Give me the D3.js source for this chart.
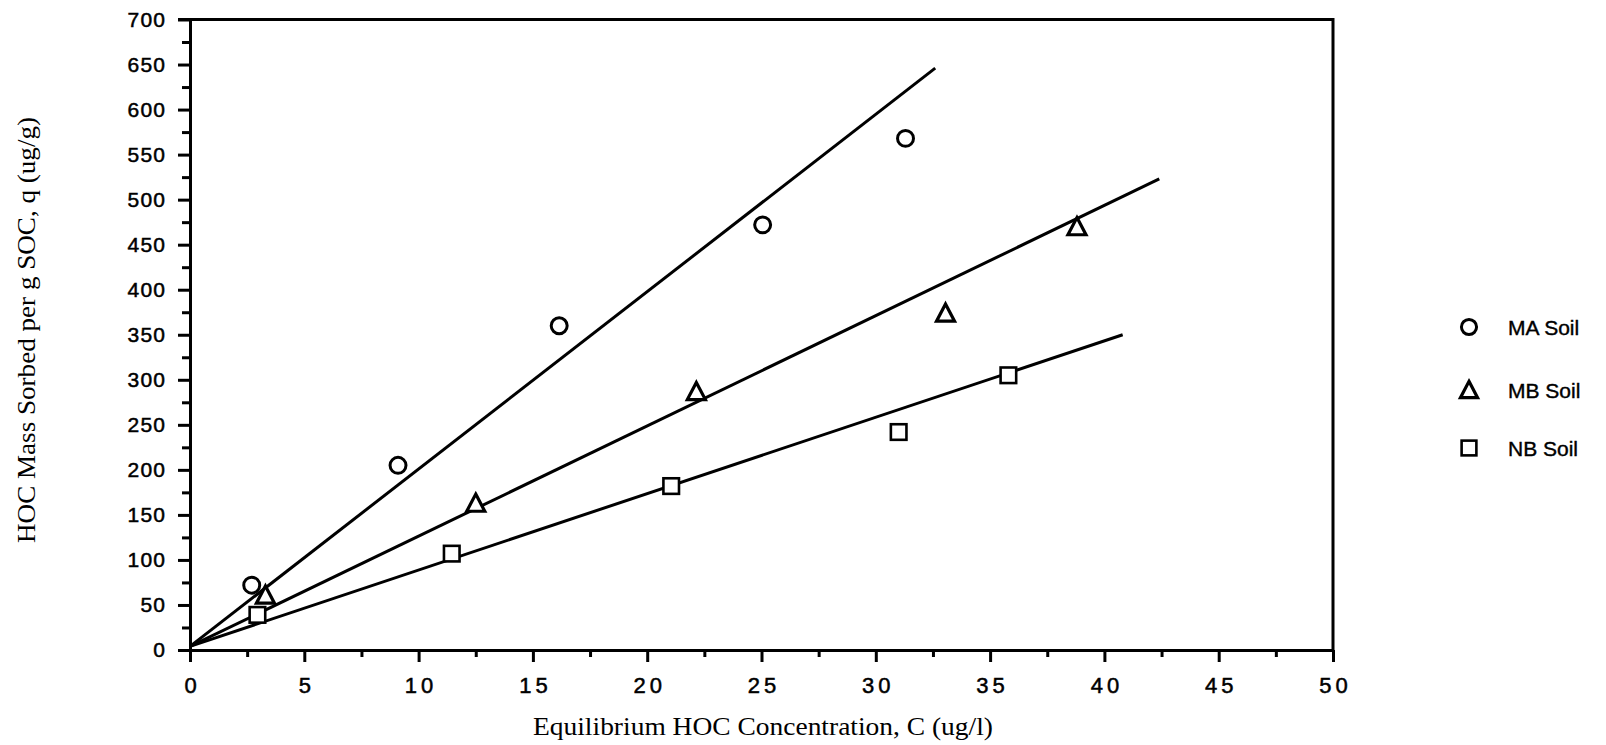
<!DOCTYPE html>
<html>
<head>
<meta charset="utf-8">
<script src="https://cdn.jsdelivr.net/npm/d3@7"></script>
<style>
  html, body { margin: 0; padding: 0; background: #fff; }
  svg { display: block; }
</style>
</head>
<body>
<svg id="chart" width="1606" height="745"></svg>
<script>
// ---- data ----
const xTickValues = [0, 5, 10, 15, 20, 25, 30, 35, 40, 45, 50];
const yTickValues = [0, 50, 100, 150, 200, 250, 300, 350, 400, 450, 500, 550, 600, 650, 700];
const xMinorTicks = [2.5, 7.5, 12.5, 17.5, 22.5, 27.5, 32.5, 37.5, 42.5, 47.5];
const yMinorTicks = [25, 75, 125, 175, 225, 275, 325, 375, 425, 475, 525, 575, 625, 675];

const seriesNames = ["MA Soil", "MB Soil", "NB Soil"];
const seriesShapes = ["circle", "triangle", "square"];

const maX = [2.7, 9.1, 16.15, 25.05, 31.3];
const maY = [72, 205, 360, 472, 568];
const mbX = [3.3, 12.5, 22.15, 33.05, 38.8];
const mbY = [61, 163, 287, 374, 470];
const nbX = [2.95, 11.45, 21.05, 31.0, 35.8];
const nbY = [39, 107, 182, 242, 305];

// fitted lines: [x0, y0, x1, y1]
const maLine = [0, 4, 32.6, 646];
const mbLine = [0, 4, 42.4, 523];
const nbLine = [0, 4, 40.8, 350];

const xTitle = "Equilibrium HOC Concentration, C (ug/l)";
const yTitle = "HOC Mass Sorbed per g SOC, q (ug/g)";

// ---- chart ----
const svg = d3.select("#chart");
const x = d3.scaleLinear().domain([0, 50]).range([190, 1333]);
const y = d3.scaleLinear().domain([0, 700]).range([650, 19.5]);

const sans = "'Liberation Sans', Arial, sans-serif";
const serif = "'Liberation Serif', 'Times New Roman', serif";
const AX = 3;

// x axis
const gx = svg.append("g").attr("transform", `translate(0,${y(0)})`);
gx.call(d3.axisBottom(x).tickValues(xTickValues).tickSize(12).tickSizeOuter(0).tickPadding(14)
  .tickFormat(d3.format("d")));
const gxm = svg.append("g").attr("transform", `translate(0,${y(0)})`);
gxm.call(d3.axisBottom(x).tickValues(xMinorTicks).tickSize(7).tickSizeOuter(0).tickFormat(""));
gxm.select(".domain").remove();

// y axis
const gy = svg.append("g").attr("transform", `translate(${x(0)},0)`);
gy.call(d3.axisLeft(y).tickValues(yTickValues).tickSize(12).tickSizeOuter(0).tickPadding(13)
  .tickFormat(d3.format("d")));
const gym = svg.append("g").attr("transform", `translate(${x(0)},0)`);
gym.call(d3.axisLeft(y).tickValues(yMinorTicks).tickSize(8).tickSizeOuter(0).tickFormat(""));
gym.select(".domain").remove();

svg.selectAll(".domain").attr("stroke", "#000").attr("stroke-width", AX);
svg.selectAll(".tick line").attr("stroke", "#000").attr("stroke-width", AX);

gx.selectAll(".tick text")
  .attr("font-family", sans).attr("font-size", 22).attr("fill", "#000")
  .attr("stroke", "#000").attr("stroke-width", 0.5)
  .attr("letter-spacing", 4).attr("dx", 2).attr("dy", "0.75em");
gy.selectAll(".tick text")
  .attr("font-family", sans).attr("font-size", 21).attr("fill", "#000")
  .attr("stroke", "#000").attr("stroke-width", 0.5)
  .attr("letter-spacing", 1.2).attr("dx", 1.2);

// frame (top and right)
svg.append("line")
  .attr("x1", x(0) - 12).attr("x2", x(50))
  .attr("y1", y(700)).attr("y2", y(700))
  .attr("stroke", "#000").attr("stroke-width", AX);
svg.append("line")
  .attr("x1", x(50)).attr("x2", x(50))
  .attr("y1", y(700) - 1.5).attr("y2", y(0))
  .attr("stroke", "#000").attr("stroke-width", AX);

// fit lines
[maLine, mbLine, nbLine].forEach(l => {
  svg.append("line")
    .attr("x1", x(l[0])).attr("y1", y(l[1]))
    .attr("x2", x(l[2])).attr("y2", y(l[3]))
    .attr("stroke", "#000").attr("stroke-width", 3);
});

// markers
function drawMarker(g, shape, cx, cy, s) {
  if (shape === "circle") {
    g.append("circle").attr("cx", cx).attr("cy", cy).attr("r", s * 0.42)
      .attr("fill", "#fff").attr("stroke", "#000").attr("stroke-width", 3);
  } else if (shape === "triangle") {
    const h = s * 0.85, w = s * 0.95;
    g.append("path")
      .attr("d", `M${cx},${cy - h / 2 - 1}L${cx + w / 2},${cy + h / 2}L${cx - w / 2},${cy + h / 2}Z`)
      .attr("fill", "#fff").attr("stroke", "#000").attr("stroke-width", 3.2).attr("stroke-linejoin", "miter");
  } else {
    const a = s * 0.82;
    g.append("rect").attr("x", cx - a / 2).attr("y", cy - a / 2).attr("width", a).attr("height", a)
      .attr("fill", "#fff").attr("stroke", "#000").attr("stroke-width", 2.6);
  }
}

const pts = svg.append("g");
const seriesData = [[maX, maY], [mbX, mbY], [nbX, nbY]];
seriesData.forEach((sd, i) => {
  sd[0].forEach((xv, j) => {
    drawMarker(pts, seriesShapes[i], x(xv), y(sd[1][j]), 19);
  });
});

// legend
const legend = svg.append("g");
const legendY = [327, 390, 448];
seriesNames.forEach((name, i) => {
  drawMarker(legend, seriesShapes[i], 1469, legendY[i], 18);
  legend.append("text").attr("x", 1508).attr("y", legendY[i]).attr("dy", "0.36em")
    .attr("font-family", sans).attr("font-size", 21).attr("fill", "#000")
    .attr("stroke", "#000").attr("stroke-width", 0.4).text(name);
});

// axis titles
svg.append("text")
  .attr("x", 763).attr("y", 735)
  .attr("text-anchor", "middle")
  .attr("font-family", serif).attr("font-size", 25).attr("fill", "#000")
  .attr("textLength", 460).attr("lengthAdjust", "spacingAndGlyphs")
  .text(xTitle);
svg.append("text")
  .attr("transform", `translate(35,330) rotate(-90)`)
  .attr("text-anchor", "middle")
  .attr("font-family", serif).attr("font-size", 26).attr("fill", "#000")
  .attr("textLength", 426).attr("lengthAdjust", "spacingAndGlyphs")
  .text(yTitle);
</script>
</body>
</html>
